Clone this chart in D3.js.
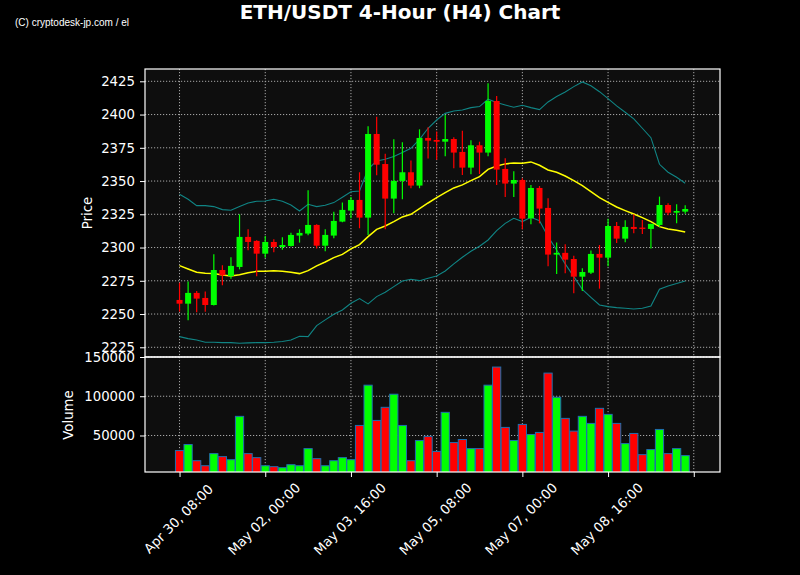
<!DOCTYPE html>
<html><head><meta charset="utf-8">
<script src="https://cdn.jsdelivr.net/npm/d3@7/dist/d3.min.js"></script>
<style>html,body{margin:0;padding:0;background:#000;}svg{display:block;}</style>
</head><body>
<svg id="chart" width="800" height="575"></svg>
<script>
// ---- data ----
const dates = [
"2025-04-30 08:00","2025-04-30 12:00","2025-04-30 16:00","2025-04-30 20:00",
"2025-05-01 00:00","2025-05-01 04:00","2025-05-01 08:00","2025-05-01 12:00","2025-05-01 16:00","2025-05-01 20:00",
"2025-05-02 00:00","2025-05-02 04:00","2025-05-02 08:00","2025-05-02 12:00","2025-05-02 16:00","2025-05-02 20:00",
"2025-05-03 00:00","2025-05-03 04:00","2025-05-03 08:00","2025-05-03 12:00","2025-05-03 16:00","2025-05-03 20:00",
"2025-05-04 00:00","2025-05-04 04:00","2025-05-04 08:00","2025-05-04 12:00","2025-05-04 16:00","2025-05-04 20:00",
"2025-05-05 00:00","2025-05-05 04:00","2025-05-05 08:00","2025-05-05 12:00","2025-05-05 16:00","2025-05-05 20:00",
"2025-05-06 00:00","2025-05-06 04:00","2025-05-06 08:00","2025-05-06 12:00","2025-05-06 16:00","2025-05-06 20:00",
"2025-05-07 00:00","2025-05-07 04:00","2025-05-07 08:00","2025-05-07 12:00","2025-05-07 16:00","2025-05-07 20:00",
"2025-05-08 00:00","2025-05-08 04:00","2025-05-08 08:00","2025-05-08 12:00","2025-05-08 16:00","2025-05-08 20:00",
"2025-05-09 00:00","2025-05-09 04:00","2025-05-09 08:00","2025-05-09 12:00","2025-05-09 16:00","2025-05-09 20:00",
"2025-05-10 00:00","2025-05-10 04:00"];

const opens = [2260.6,2257.8,2265.9,2262.1,2256.8,2283.1,2278.6,2285.4,2308.0,2305.0,
2295.4,2304.2,2300.4,2301.2,2309.0,2310.5,2317.0,2301.4,2309.0,2319.5,
2327.8,2335.8,2322.5,2385.4,2362.8,2336.8,2350.1,2356.6,2346.6,2382.4,
2380.9,2379.6,2381.6,2371.9,2360.1,2376.9,2371.4,2410.2,2359.1,2348.1,
2350.8,2322.0,2344.8,2329.8,2294.7,2296.0,2291.4,2278.1,2281.1,2295.2,
2292.4,2316.2,2306.7,2315.5,2315.0,2314.0,2317.0,2332.0,2326.2,2327.0];

const highs = [2273.6,2274.4,2267.4,2266.9,2294.9,2286.7,2292.7,2325.0,2313.7,2305.5,
2308.7,2306.2,2307.7,2311.2,2313.7,2343.0,2317.5,2313.7,2327.0,2333.8,
2338.0,2356.6,2391.2,2398.4,2370.6,2381.4,2379.1,2365.4,2388.9,2390.4,
2387.2,2399.7,2382.9,2387.9,2380.6,2379.6,2423.5,2414.0,2367.1,2357.3,
2352.1,2347.1,2346.3,2337.0,2303.7,2302.4,2293.9,2284.4,2297.7,2301.9,
2321.7,2319.2,2320.5,2325.0,2320.7,2317.8,2338.3,2333.3,2332.5,2331.8];

const lows = [2251.8,2245.3,2251.3,2251.8,2256.5,2271.6,2276.6,2283.6,2297.9,2278.4,
2292.4,2296.4,2298.4,2300.7,2303.7,2309.2,2299.2,2297.2,2307.0,2319.0,
2322.0,2314.5,2309.5,2354.3,2313.7,2325.7,2336.3,2344.6,2344.6,2366.9,
2366.1,2368.6,2359.6,2354.6,2355.1,2355.3,2368.6,2347.1,2338.0,2338.0,
2313.7,2317.5,2318.2,2285.9,2280.1,2280.6,2265.6,2267.4,2280.1,2269.1,
2285.9,2303.4,2303.9,2310.7,2310.2,2299.2,2315.5,2324.2,2318.2,2325.5];

const closes = [2257.8,2265.9,2261.6,2256.8,2283.1,2279.1,2286.2,2308.0,2304.2,2295.4,
2304.2,2300.4,2301.9,2309.5,2311.0,2317.0,2301.4,2309.5,2320.0,2328.3,
2335.8,2322.5,2385.4,2362.3,2336.8,2350.1,2356.6,2346.6,2382.4,2380.4,
2379.6,2381.6,2371.4,2360.1,2376.9,2371.4,2410.2,2358.6,2348.1,2350.8,
2321.7,2344.8,2329.3,2294.7,2296.0,2290.9,2278.1,2281.6,2295.2,2292.4,
2316.2,2306.7,2315.5,2314.0,2314.0,2317.8,2332.0,2326.2,2327.5,2329.0];

const volumes = [30800,38500,17900,11500,26900,23100,19200,74400,26900,21800,
11500,10300,9000,12800,11500,33300,20500,11500,17900,21800,
19200,62800,114100,69200,85900,102600,62800,17900,43600,48900,
29700,79500,41000,44900,33300,33300,114100,137200,60300,43600,
64100,51300,53900,129500,98700,71800,55600,74400,65400,84600,
76900,65400,39700,52600,25600,32100,57700,26900,33300,24400];

const maLine = [2286.4,2283.9,2281.4,2280.6,2280.4,2279.4,2278.6,2279.6,2281.1,2282.1,
2282.1,2282.6,2282.1,2281.4,2280.4,2282.6,2286.2,2289.1,2292.4,2294.9,
2299.0,2302.2,2308.2,2313.7,2316.2,2319.5,2323.0,2325.0,2329.3,2333.5,
2337.5,2341.3,2344.8,2347.1,2350.3,2353.3,2358.8,2361.3,2362.9,2363.6,
2363.4,2364.4,2361.9,2358.3,2356.6,2353.8,2350.3,2346.6,2342.0,2337.5,
2334.0,2330.5,2327.8,2325.2,2322.5,2319.5,2315.7,2314.0,2313.0,2311.7];

const upperBand = [2340.0,2336.3,2331.5,2331.5,2330.8,2328.5,2328.0,2330.8,2333.5,2334.8,
2335.0,2336.3,2334.8,2332.0,2327.5,2332.5,2330.8,2331.8,2333.8,2337.8,
2342.0,2342.5,2359.0,2365.1,2366.4,2368.4,2371.4,2374.6,2381.4,2389.7,
2395.9,2400.9,2402.7,2403.4,2405.2,2406.0,2411.5,2409.0,2407.2,2405.5,
2407.0,2405.2,2403.7,2409.5,2413.5,2417.0,2421.0,2424.5,2421.7,2417.2,
2412.0,2406.5,2401.7,2396.7,2389.7,2382.6,2362.6,2356.6,2352.8,2348.3];

const lowerBand = [2233.0,2231.5,2230.5,2228.8,2228.8,2228.5,2228.5,2228.0,2228.3,2228.5,
2228.5,2228.8,2229.3,2230.5,2233.3,2233.0,2241.3,2245.6,2249.9,2253.1,
2258.1,2261.6,2257.6,2263.1,2266.4,2270.6,2274.9,2276.1,2275.1,2276.9,
2278.6,2282.4,2287.7,2292.7,2297.2,2301.0,2305.7,2312.7,2318.2,2322.0,
2319.5,2322.7,2320.2,2308.2,2298.2,2287.7,2278.1,2268.6,2262.6,2256.8,
2255.6,2254.8,2254.3,2253.8,2254.3,2256.1,2268.6,2271.1,2272.9,2274.9];

const priceTicks = [2225,2250,2275,2300,2325,2350,2375,2400,2425];
const volumeTicks = [50000,100000,150000];
const xTickDates = ["2025-04-30 08:00","2025-05-02 00:00","2025-05-03 16:00","2025-05-05 08:00","2025-05-07 00:00","2025-05-08 16:00","2025-05-10 08:00"];
const xTickLabels = ["Apr 30, 08:00","May 02, 00:00","May 03, 16:00","May 05, 08:00","May 07, 00:00","May 08, 16:00",""];

// ---- layout ----
const W = 800, H = 575;
const L = 145, R = 720, PT = 69, PB = 357, VT = 357, VB = 472;
const FONT = "DejaVu Sans, sans-serif";
const GREEN = "#00ff00", RED = "#ff0000";
const H4 = 4 * 3600 * 1000;

const parse = d3.utcParse("%Y-%m-%d %H:%M");
const t = dates.map(parse);
const tickT = xTickDates.map(parse);

const x = d3.scaleUtc()
  .domain([new Date(+t[0] - 4.03 * H4), new Date(+t[0] + 63.06 * H4)])
  .range([L, R]);
const y = d3.scaleLinear().domain([2217.7, 2434.25]).range([PB, PT]);
const yv = d3.scaleLinear().domain([3500, 150000]).range([VB, VT]);

const svg = d3.select("#chart");
svg.append("rect").attr("width", W).attr("height", H).attr("fill", "#000");

const defs = svg.append("defs");
defs.append("clipPath").attr("id", "clipP").append("rect")
  .attr("x", L).attr("y", PT).attr("width", R - L).attr("height", PB - PT);
defs.append("clipPath").attr("id", "clipV").append("rect")
  .attr("x", L).attr("y", VT).attr("width", R - L).attr("height", VB - VT);

// backgrounds
svg.append("rect").attr("x", L).attr("y", PT).attr("width", R - L).attr("height", PB - PT).attr("fill", "#0e0e0e");
svg.append("rect").attr("x", L).attr("y", VT).attr("width", R - L).attr("height", VB - VT).attr("fill", "#0e0e0e");

// grids
const gridStyle = sel => sel.attr("stroke", "#a8a8a8").attr("stroke-width", 1)
  .attr("stroke-dasharray", "1.2,1.8").attr("fill", "none");

const gP = svg.append("g");
gP.selectAll("line.h").data(priceTicks).join("line")
  .attr("x1", L).attr("x2", R).attr("y1", d => y(d)).attr("y2", d => y(d)).call(gridStyle);
gP.selectAll("line.v").data(tickT).join("line").attr("class", "v")
  .attr("x1", d => x(d)).attr("x2", d => x(d)).attr("y1", PT).attr("y2", PB).call(gridStyle);

const gV = svg.append("g");
gV.selectAll("line.h").data(volumeTicks).join("line")
  .attr("x1", L).attr("x2", R).attr("y1", d => yv(d)).attr("y2", d => yv(d)).call(gridStyle);
gV.selectAll("line.v").data(tickT).join("line").attr("class", "v")
  .attr("x1", d => x(d)).attr("x2", d => x(d)).attr("y1", VT).attr("y2", VB).call(gridStyle);

// price pane content
const pc = svg.append("g").attr("clip-path", "url(#clipP)");
const line = arr => d3.line().x((d, i) => x(t[i])).y(d => y(d))(arr);
pc.append("path").attr("d", line(upperBand)).attr("fill", "none").attr("stroke", "#108585").attr("stroke-width", 1.1);
pc.append("path").attr("d", line(lowerBand)).attr("fill", "none").attr("stroke", "#108585").attr("stroke-width", 1.1);
pc.append("path").attr("d", line(maLine)).attr("fill", "none").attr("stroke", "#ffff00").attr("stroke-width", 1.5);

const idx = d3.range(dates.length);
const col = i => closes[i] >= opens[i] ? GREEN : RED;
pc.selectAll("line.wick").data(idx).join("line").attr("class", "wick")
  .attr("x1", i => x(t[i])).attr("x2", i => x(t[i]))
  .attr("y1", i => y(highs[i])).attr("y2", i => y(lows[i]))
  .attr("stroke", col).attr("stroke-width", 1.2);
const bw = 6;
pc.selectAll("rect.body").data(idx).join("rect").attr("class", "body")
  .attr("x", i => x(t[i]) - bw / 2).attr("width", bw)
  .attr("y", i => y(Math.max(opens[i], closes[i])))
  .attr("height", i => Math.max(1, Math.abs(y(opens[i]) - y(closes[i]))))
  .attr("fill", col);

// volume pane content
const vc = svg.append("g").attr("clip-path", "url(#clipV)");
const vbw = 8.2;
vc.selectAll("rect.vol").data(idx).join("rect").attr("class", "vol")
  .attr("x", i => x(t[i]) - vbw / 2).attr("width", vbw)
  .attr("y", i => yv(volumes[i])).attr("height", i => VB + 2 - yv(volumes[i]))
  .attr("fill", col).attr("stroke", "#1f6fb0").attr("stroke-width", 1);

// spines
[[PT, PB], [VT, VB]].forEach(([a, b]) => {
  svg.append("rect").attr("x", L).attr("y", a).attr("width", R - L).attr("height", b - a)
    .attr("fill", "none").attr("stroke", "#ffffff").attr("stroke-width", 1.2);
});

// y axes
const styleAxis = g => {
  g.select(".domain").remove();
  g.selectAll(".tick line").attr("stroke", "#fff").attr("stroke-width", 1);
  g.selectAll(".tick text").attr("fill", "#fff").attr("font-family", FONT).attr("font-size", "13.3px");
};
svg.append("g").attr("transform", `translate(${L},0)`)
  .call(d3.axisLeft(y).tickValues(priceTicks).tickSize(5).tickPadding(5).tickFormat(d3.format("d")))
  .call(styleAxis);
svg.append("g").attr("transform", `translate(${L},0)`)
  .call(d3.axisLeft(yv).tickValues(volumeTicks).tickSize(5).tickPadding(5).tickFormat(d3.format("d")))
  .call(styleAxis);

// x axis (bottom of volume pane)
const xa = svg.append("g").attr("transform", `translate(0,${VB})`)
  .call(d3.axisBottom(x).tickValues(tickT).tickSize(5).tickFormat(""));
xa.select(".domain").remove();
xa.selectAll(".tick line").attr("stroke", "#fff");
svg.append("g").selectAll("text").data(tickT).join("text")
  .attr("transform", d => `translate(${x(d) - 1},519) rotate(-45)`)
  .attr("text-anchor", "middle").attr("dominant-baseline", "central")
  .attr("fill", "#fff").attr("font-family", FONT).attr("font-size", "13.3px")
  .text((d, i) => xTickLabels[i]);

// axis titles
svg.append("text").attr("transform", "translate(87,213) rotate(-90)")
  .attr("text-anchor", "middle").attr("dominant-baseline", "central")
  .attr("fill", "#fff").attr("font-family", FONT).attr("font-size", "13.3px").text("Price");
svg.append("text").attr("transform", "translate(68,415) rotate(-90)")
  .attr("text-anchor", "middle").attr("dominant-baseline", "central")
  .attr("fill", "#fff").attr("font-family", FONT).attr("font-size", "13.3px").text("Volume");

// title & watermark
svg.append("text").attr("x", 400).attr("y", 18.5).attr("text-anchor", "middle")
  .attr("fill", "#fff").attr("font-family", FONT).attr("font-weight", "bold").attr("font-size", "20px")
  .text("ETH/USDT 4-Hour (H4) Chart");
svg.append("text").attr("x", 15).attr("y", 25.5)
  .attr("fill", "#fff").attr("font-family", "Liberation Sans Narrow, Liberation Sans, sans-serif").attr("font-size", "11.5px")
  .attr("textLength", 114).attr("lengthAdjust", "spacingAndGlyphs")
  .text("(C) cryptodesk-jp.com / el");
</script>
</body></html>
